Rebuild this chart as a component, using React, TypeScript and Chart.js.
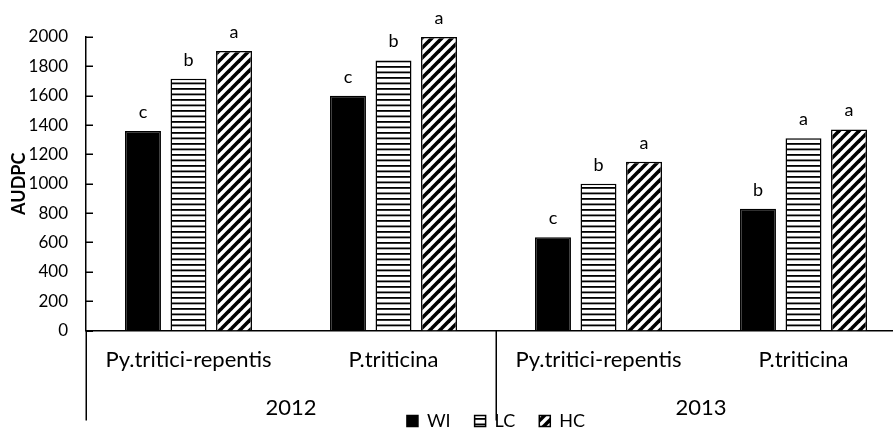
import React, { useEffect, useRef } from "react";
import { Chart, registerables } from "chart.js";

Chart.register(...registerables);

const categories = ["Py.tritici-repentis", "P.triticina", "Py.tritici-repentis", "P.triticina"];
const yearLabels = ["2012", "2013"];
const yearSpans = [
  [0, 1],
  [2, 3],
];
const seriesNames = ["WI", "LC", "HC"];
const wiValues = [1360, 1600, 636, 830];
const lcValues = [1715, 1840, 1000, 1310];
const hcValues = [1905, 2000, 1150, 1370];
const wiLetters = ["c", "c", "c", "b"];
const lcLetters = ["b", "b", "b", "a"];
const hcLetters = ["a", "a", "a", "a"];
const yMin = 0;
const yMax = 2000;
const yStep = 200;
const yTitle = "AUDPC";

const FONT = "Lato, 'Noto Sans', sans-serif";

function makeLinesPattern(ctx: CanvasRenderingContext2D): CanvasPattern | string {
  const t = document.createElement("canvas");
  t.width = 8;
  t.height = 11;
  const c = t.getContext("2d")!;
  c.fillStyle = "#fff";
  c.fillRect(0, 0, 8, 11);
  c.fillStyle = "#000";
  c.fillRect(0, 0, 8, 1.8);
  c.fillRect(0, 5.5, 8, 1.8);
  return ctx.createPattern(t, "repeat") || "#888";
}

function makeHatchPattern(ctx: CanvasRenderingContext2D): CanvasPattern | string {
  const s = 10;
  const t = document.createElement("canvas");
  t.width = s;
  t.height = s;
  const c = t.getContext("2d")!;
  c.fillStyle = "#fff";
  c.fillRect(0, 0, s, s);
  c.strokeStyle = "#000";
  c.lineWidth = 3.6;
  c.lineCap = "square";
  for (let k = -1; k <= 1; k++) {
    c.beginPath();
    c.moveTo(k * s - 3, s + 3);
    c.lineTo(k * s + s + 3, -3);
    c.stroke();
  }
  return ctx.createPattern(t, "repeat") || "#444";
}

export default function App() {
  const ref = useRef<HTMLCanvasElement>(null);

  useEffect(() => {
    const canvas = ref.current!;
    const ctx = canvas.getContext("2d")!;
    const lc = makeLinesPattern(ctx);
    const hc = makeHatchPattern(ctx);
    const letterSets = [wiLetters, lcLetters, hcLetters];

    const lettersPlugin = {
      id: "letters",
      afterDatasetsDraw(chart: any) {
        const c = chart.ctx as CanvasRenderingContext2D;
        c.save();
        c.font = `18px ${FONT}`;
        c.fillStyle = "#000";
        c.textAlign = "center";
        c.textBaseline = "alphabetic";
        letterSets.forEach((set, di) => {
          const meta = chart.getDatasetMeta(di);
          meta.data.forEach((bar: any, j: number) => {
            c.fillText(set[j], bar.x, bar.y - 13);
          });
        });
        c.restore();
      },
    };

    const axesPlugin = {
      id: "axesExtra",
      afterDraw(chart: any) {
        const c = chart.ctx as CanvasRenderingContext2D;
        const area = chart.chartArea;
        const xs = chart.scales.x;
        const ys = chart.scales.y;
        c.save();
        c.strokeStyle = "#000";
        c.lineWidth = 1.5;
        ys.ticks.forEach((t: any) => {
          const py = Math.round(ys.getPixelForValue(t.value)) + 0.25;
          c.beginPath();
          c.moveTo(area.left, py);
          c.lineTo(area.left + 7, py);
          c.stroke();
        });
        const half = (xs.getPixelForValue(1) - xs.getPixelForValue(0)) / 2;
        const bounds: number[] = [];
        yearSpans.forEach((sp, i) => {
          if (i === 0) bounds.push(xs.getPixelForValue(sp[0]) - half);
          bounds.push(xs.getPixelForValue(sp[1]) + half);
        });
        bounds.forEach((bx) => {
          const px = Math.round(bx) + 0.25;
          c.beginPath();
          c.moveTo(px, area.bottom);
          c.lineTo(px, area.bottom + 90);
          c.stroke();
        });
        c.font = `22px ${FONT}`;
        c.fillStyle = "#000";
        c.textAlign = "center";
        c.textBaseline = "middle";
        yearSpans.forEach((sp, i) => {
          const cx = (xs.getPixelForValue(sp[0]) + xs.getPixelForValue(sp[1])) / 2;
          c.fillText(yearLabels[i], cx, area.bottom + 77);
        });
        c.restore();
      },
    };

    const chart = new Chart(ctx, {
      type: "bar",
      data: {
        labels: categories,
        datasets: [
          { label: seriesNames[0], data: wiValues, backgroundColor: "#000", borderColor: "#000", borderWidth: 1.5 },
          { label: seriesNames[1], data: lcValues, backgroundColor: lc as any, borderColor: "#000", borderWidth: 1.5 },
          { label: seriesNames[2], data: hcValues, backgroundColor: hc as any, borderColor: "#000", borderWidth: 1.5 },
        ],
      },
      options: {
        responsive: false,
        animation: false,
        layout: { padding: { top: 37, left: 0, right: 0, bottom: 0 } },
        datasets: { bar: { categoryPercentage: 0.666, barPercentage: 0.79 } },
        plugins: {
          tooltip: { enabled: false },
          legend: {
            position: "bottom",
            fullSize: false,
            labels: {
              boxWidth: 11,
              boxHeight: 11,
              padding: 24,
              color: "#000",
              font: { family: FONT, size: 18 },
            },
          },
        },
        scales: {
          x: {
            grid: { display: false, drawTicks: false },
            border: { display: true, color: "#000", width: 1.5 },
            ticks: {
              color: "#000",
              font: { family: FONT, size: 22 },
              padding: 16,
              maxRotation: 0,
              autoSkip: false,
            },
            afterFit(scale: any) {
              scale.height = 57.5;
            },
          },
          y: {
            min: yMin,
            max: yMax,
            grid: { display: false, drawTicks: false },
            border: { display: true, color: "#000", width: 1.5 },
            ticks: {
              stepSize: yStep,
              color: "#000",
              font: { family: FONT, size: 17 },
              padding: 18,
              callback: (v: any) => String(v),
            },
            title: {
              display: true,
              text: yTitle,
              color: "#000",
              font: { family: FONT, size: 18, weight: "bold" },
              padding: { top: 8, bottom: 0 },
            },
            afterFit(scale: any) {
              scale.width = 86;
            },
          },
        },
      },
      plugins: [lettersPlugin, axesPlugin],
    });
    return () => chart.destroy();
  }, []);

  return (
    <div
      style={{
        position: "fixed",
        left: 0,
        top: 0,
        width: 893,
        height: 433,
        overflow: "hidden",
        background: "#fff",
      }}
    >
      <canvas ref={ref} width={906} height={440} style={{ display: "block" }} />
    </div>
  );
}
